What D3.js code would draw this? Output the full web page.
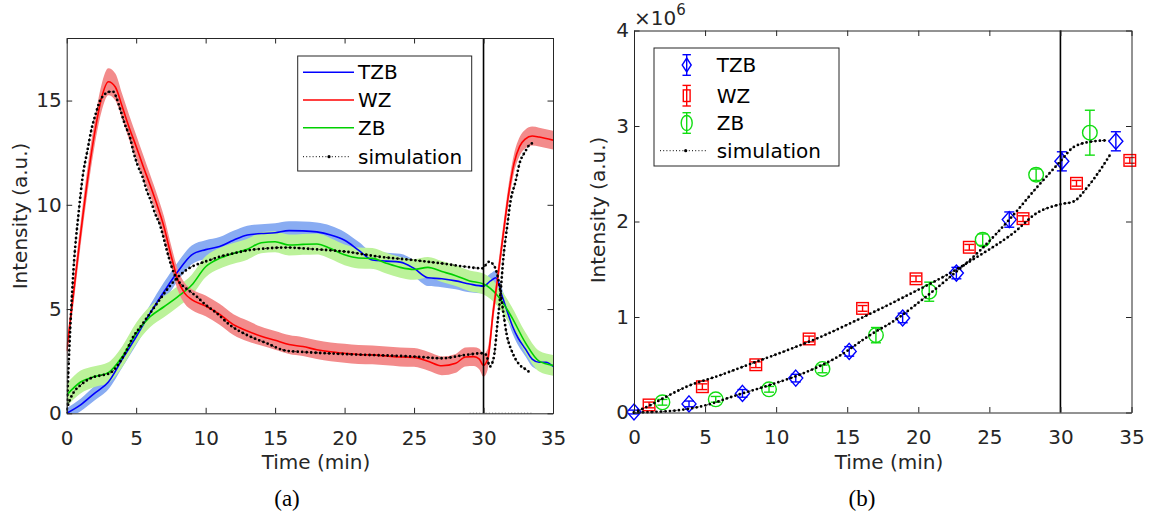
<!DOCTYPE html>
<html>
<head>
<meta charset="utf-8">
<script src="https://cdn.jsdelivr.net/npm/d3@7"></script>
<style>
  body { margin: 0; background: #fff; }
  svg text { font-family: "DejaVu Sans", sans-serif; }
  svg text.caption { font-family: "Liberation Serif", serif; }
</style>
</head>
<body>
<svg id="fig" width="1160" height="524"></svg>
<script>
// ---------- (a) intensity traces, a.u. ----------
const ticksA_x = [0, 5, 10, 15, 20, 25, 30, 35];
const ticksA_y = [0, 5, 10, 15];

const wzTime = [0,0.5,1,1.5,2,2.5,3,3.5,4,4.5, 5,5.5,6,6.5,7,7.5,8,8.5,9,10, 11,12,13,14,15,16,17,18,19,20, 21,22,23,24,25,26,27,28, 28.7,29.3,29.7,30,30.3,30.7,31,31.4,31.8,32.2, 32.6,33,33.5,34,35];
const wzValue = [3.0,5.8,8.6,11.2,13.4,15.1,15.9,15.65,14.7,13.7, 12.8,11.85,10.95,10.0,8.95,7.6,6.4,5.75,5.45,5.15, 4.75,4.25,3.95,3.7,3.5,3.3,3.2,3.05,2.95,2.88, 2.82,2.8,2.75,2.7,2.68,2.5,2.28,2.4, 2.7,2.72,2.6,2.3,2.6,4.9,6.4,8.5,10.5,12.0, 12.8,13.15,13.3,13.25,13.1];
const wzSpread = [0.4,0.5,0.55,0.6,0.6,0.65,0.65,0.65,0.6,0.6, 0.55,0.55,0.5,0.5,0.5,0.5,0.5,0.5,0.5,0.5, 0.5,0.5,0.5,0.45,0.45,0.45,0.45,0.45,0.45,0.45, 0.45,0.45,0.45,0.45,0.45,0.45,0.45,0.45, 0.45,0.45,0.5,0.55,0.5,0.45,0.45,0.45,0.45,0.45, 0.45,0.45,0.45,0.45,0.45];

const tzbTime = [0,1,2,3,4,5,6,7,8,9, 10,11,12,13,14,15,16,17,18,19, 20,21,22,23,24,25,26,27,28,29, 30,30.5,30.9,31.3,31.7,32.1,32.5,33,33.5,34,34.5,35];
const tzbValue = [0,0.4,0.96,1.5,2.6,3.67,4.8,5.83,6.8,7.6, 7.85,8.0,8.3,8.55,8.62,8.66,8.76,8.75,8.7,8.55, 8.3,7.83,7.35,7.3,7.25,6.95,6.5,6.45,6.35,6.2, 6.1,6.35,6.5,5.7,4.9,4.15,3.6,3.1,2.6,2.45,2.45,2.25];
const tzbSpread = [0.25,0.3,0.35,0.35,0.4,0.4,0.4,0.45,0.45,0.45, 0.45,0.45,0.45,0.45,0.45,0.45,0.45,0.45,0.45,0.45, 0.4,0.4,0.4,0.4,0.4,0.4,0.4,0.4,0.4,0.4, 0.35,0.35,0.35,0.35,0.35,0.35,0.35,0.35,0.35,0.35,0.35,0.35];

const zbTime = [0,1,2,3,4,5,6,7,8,9, 10,11,12,13,14,15,16,17,18,19, 20,21,22,23,24,25,26,27,28,29, 30,31,32,33,34,35];
const zbValue = [0.88,1.5,1.76,1.95,2.72,3.84,4.63,5.11,5.6,6.15, 7.03,7.43,7.67,7.87,8.18,8.23,8.07,8.1,8.12,7.9, 7.6,7.45,7.43,7.2,7.0,6.9,7.0,6.8,6.6,6.35, 6.2,5.65,4.65,3.4,2.5,2.3];
const zbSpread = [0.55,0.55,0.5,0.5,0.5,0.5,0.5,0.5,0.5,0.5, 0.5,0.5,0.5,0.5,0.5,0.5,0.5,0.5,0.5,0.5, 0.5,0.5,0.5,0.5,0.5,0.5,0.5,0.5,0.5,0.5, 0.5,0.5,0.5,0.5,0.5,0.5];

const simWzTime = [0,0.25,0.5,0.85,1.15,1.5,1.8,2.1,2.4,2.7, 3.0,3.35,3.6,3.9,4.2,4.55,4.8,5.1,5.45,5.75, 6.05,6.35,6.7,6.95,7.2,7.55,7.9,8.3,8.75,9.35, 10,10.8,11.75,12.95,14.4,15.8,17,20,25,27, 28.7,29.9,30.2,30.45,30.75,31.0,31.2,31.45,31.7,31.95, 32.3,32.6,33.0,33.3,33.5];
const simWzValue = [0,4.0,7.0,9.56,11.35,12.63,13.67,14.39,15.0,15.27, 15.42,15.42,15.1,14.47,13.83,13.24,12.55,11.9,11.35,10.7, 10.2,9.6,9.05,8.47,7.83,7.03,6.47,6.15,5.91,5.6, 5.2,4.8,4.23,3.76,3.36,3.0,2.94,2.84,2.72,2.64, 2.8,2.88,2.8,2.24,2.72,4.3,5.6,7.6,8.95,10.2, 11.1,12.0,12.55,12.87,12.95];

const simZbTime = [0,0.2,0.5,1,1.5,2,2.5,3.1,3.6,4.2, 4.8,5.4,6,6.6,7.2,7.8,8.3,9,9.6,10.3, 11,12,13.2,14.4,15.8,17.8,20.1,22.5,24.9,27.3, 28.7,29.9,30.4,30.8,31.2,31.4,31.65,32.1,32.6,33.1, 33.4];
const simZbValue = [0.2,0.6,1.0,1.35,1.6,1.75,1.82,1.92,2.24,2.88, 3.68,4.23,4.8,5.36,5.91,6.39,6.71,7.03,7.19,7.35, 7.51,7.67,7.83,7.91,7.95,7.87,7.75,7.51,7.35,7.16, 7.03,6.95,7.27,7.03,5.91,4.95,3.84,2.88,2.32,2.08, 1.92];

const simBaseTime = [29.0, 33.45];
const simBaseValue = [0, 0];

// ---------- (b) integrated intensity, ×10^6 a.u. ----------
const ticksB_x = [0, 5, 10, 15, 20, 25, 30, 35];
const ticksB_y = [0, 1, 2, 3, 4];

const tzbPtTime = [0,3.87,7.63,11.38,15.14,18.9,22.68,26.4,30.1,33.9];
const tzbPtValue = [0.005,0.09,0.2,0.36,0.64,0.99,1.46,2.02,2.63,2.84];
const tzbPtErr = [0.02,0.03,0.04,0.04,0.05,0.05,0.06,0.08,0.1,0.1];

const wzPtTime = [1.06,4.81,8.57,12.32,16.08,19.84,23.59,27.37,31.13,34.88];
const wzPtValue = [0.079,0.27,0.5,0.77,1.09,1.4,1.73,2.03,2.4,2.64];
const wzPtErr = [0.03,0.03,0.03,0.03,0.03,0.03,0.03,0.03,0.03,0.03];

const zbPtTime = [2.0,5.75,9.5,13.26,17.02,20.77,24.53,28.29,32.07];
const zbPtValue = [0.107,0.138,0.243,0.456,0.81,1.265,1.81,2.49,2.93];
const zbPtErr = [0.03,0.03,0.03,0.04,0.08,0.1,0.06,0.06,0.235];

const simUpTime = [0,1.06,2.07,3.7,6.06,8.4,10.75,13.1,15.44,17.8,19.67,22.0,24.37,26.7,28.36,30.0,30.94,31.9,32.8,33.5];
const simUpValue = [0,0.07,0.15,0.27,0.39,0.52,0.65,0.79,0.95,1.12,1.26,1.44,1.65,1.88,2.09,2.18,2.21,2.36,2.54,2.70];

const simLowTime = [0,2.5,4.9,7.2,9.6,11.9,14.3,16.6,18.6,19.67,22.0,24.37,26.7,28.36,30.0,30.94,32.35,33.4];
const simLowValue = [0,0.015,0.07,0.18,0.29,0.41,0.58,0.81,0.99,1.11,1.39,1.70,2.07,2.36,2.63,2.78,2.84,2.85];

const seriesNames = ["TZB", "WZ", "ZB", "simulation"];

// ---------- styling ----------
const AX = "#262626";
const C = { tzb: "#0000ff", wz: "#ff0000", zb: "#00d000" };
const BAND = { tzb: "#89acf2", wz: "#f38b8b", zb: "#bcf29a" };
const MARK = { tzb: "#0000ff", wz: "#ff0000", zb: "#11dd11" };
const FS = 20;

const svg = d3.select("#fig");

const xA = d3.scaleLinear().domain([0, 35]).range([66.7, 553]);
const yA = d3.scaleLinear().domain([0, 18]).range([413.3, 38]);
const xB = d3.scaleLinear().domain([0, 35]).range([634, 1131.5]);
const yB = d3.scaleLinear().domain([0, 4]).range([412.5, 30.5]);

function zip(ts, vs, es) {
  return ts.map((t, i) => ({ t, v: vs[i], e: es ? es[i] : 0 }));
}

function drawAxes(x, y, xt, yt) {
  const [x0, x1] = x.range();
  const [y0, y1] = y.range();
  const g = svg.append("g");
  const fmt = d3.format("d");
  const style = sel => {
    sel.selectAll("path.domain").attr("stroke", AX).attr("stroke-width", 1);
    sel.selectAll(".tick line").attr("stroke", AX).attr("stroke-width", 1);
    sel.selectAll(".tick text").attr("fill", AX).attr("font-size", FS);
  };
  g.append("g").attr("transform", `translate(0,${y0})`)
    .call(d3.axisBottom(x).tickValues(xt).tickFormat(fmt).tickSizeInner(-5.5).tickSizeOuter(0).tickPadding(17.5)).call(style);
  g.append("g").attr("transform", `translate(0,${y1})`)
    .call(d3.axisTop(x).tickValues(xt).tickSizeInner(-5.5).tickSizeOuter(0).tickFormat("")).call(style);
  g.append("g").attr("transform", `translate(${x0},0)`)
    .call(d3.axisLeft(y).tickValues(yt).tickFormat(fmt).tickSizeInner(-5.5).tickSizeOuter(0).tickPadding(5)).call(style);
  g.append("g").attr("transform", `translate(${x1},0)`)
    .call(d3.axisRight(y).tickValues(yt).tickSizeInner(-5.5).tickSizeOuter(0).tickFormat("")).call(style);
  return g;
}

function drawSim(g, x, y, ts, vs, withDots) {
  const line = d3.line().x(d => x(d.t)).y(d => y(d.v)).curve(d3.curveMonotoneX);
  const data = zip(ts, vs);
  g.append("path").attr("d", line(data)).attr("fill", "none")
    .attr("stroke", "#000").attr("stroke-width", 1).attr("stroke-dasharray", "1 2.2");
  if (withDots) {
    g.append("path").attr("d", line(data)).attr("fill", "none")
      .attr("stroke", "#000").attr("stroke-width", 2.8).attr("stroke-linecap", "round")
      .attr("stroke-dasharray", "0 4.5");
  }
}

function clipFor(id, x, y) {
  const [x0, x1] = x.range();
  const [y0, y1] = y.range();
  svg.append("clipPath").attr("id", id).append("rect")
    .attr("x", x0).attr("y", y1).attr("width", x1 - x0).attr("height", y0 - y1);
}

// ================= panel (a) =================
clipFor("clipA", xA, yA);
const gA = svg.append("g").attr("clip-path", "url(#clipA)");

const bandA = d3.area().x(d => xA(d.t)).y0(d => yA(d.v - d.e)).y1(d => yA(d.v + d.e)).curve(d3.curveMonotoneX);
const lineA = d3.line().x(d => xA(d.t)).y(d => yA(d.v)).curve(d3.curveMonotoneX);

const tracesA = [
  { key: "tzb", data: zip(tzbTime, tzbValue, tzbSpread) },
  { key: "zb", data: zip(zbTime, zbValue, zbSpread) },
  { key: "wz", data: zip(wzTime, wzValue, wzSpread) }
];
tracesA.forEach(s => gA.append("path").attr("d", bandA(s.data)).attr("fill", BAND[s.key]));
tracesA.forEach(s => gA.append("path").attr("d", lineA(s.data)).attr("fill", "none")
  .attr("stroke", C[s.key]).attr("stroke-width", 1.6));

drawSim(gA, xA, yA, simWzTime, simWzValue, true);
drawSim(gA, xA, yA, simZbTime, simZbValue, true);
drawSim(gA, xA, yA, simBaseTime, simBaseValue, false);

gA.append("line").attr("x1", xA(30)).attr("x2", xA(30))
  .attr("y1", yA.range()[0]).attr("y2", yA.range()[1])
  .attr("stroke", "#000").attr("stroke-width", 1.6);

drawAxes(xA, yA, ticksA_x, ticksA_y);

// legend (a)
const legA = svg.append("g");
legA.append("rect").attr("x", 297.7).attr("y", 56).attr("width", 174).attr("height", 115)
  .attr("fill", "#fff").attr("stroke", AX).attr("stroke-width", 1);
const legAy = [72.3, 100, 127.7, 156.7];
const legAkeys = ["tzb", "wz", "zb"];
legAkeys.forEach((k, i) => {
  legA.append("line").attr("x1", 303).attr("x2", 354).attr("y1", legAy[i]).attr("y2", legAy[i])
    .attr("stroke", C[k]).attr("stroke-width", 1.6);
});
legA.append("line").attr("x1", 303).attr("x2", 351).attr("y1", legAy[3]).attr("y2", legAy[3])
  .attr("stroke", "#000").attr("stroke-width", 1).attr("stroke-dasharray", "1 2.2");
legA.append("circle").attr("cx", 329).attr("cy", legAy[3]).attr("r", 1.6).attr("fill", "#000");
seriesNames.forEach((n, i) => {
  legA.append("text").attr("x", 358).attr("y", legAy[i] + 7).attr("font-size", FS).attr("fill", "#000").text(n);
});

// axis titles (a)
svg.append("text").attr("x", 316).attr("y", 469).attr("text-anchor", "middle")
  .attr("font-size", FS).attr("fill", AX).text("Time (min)");
svg.append("text").attr("transform", "translate(27,216) rotate(-90)").attr("text-anchor", "middle")
  .attr("font-size", FS).attr("fill", AX).text("Intensity (a.u.)");

// ================= panel (b) =================
const gB = svg.append("g");

// error bars and markers
function drawPoints(g, key, ts, vs, es, shape) {
  const col = MARK[key];
  ts.forEach((t, i) => {
    const cx = xB(t), cy = yB(vs[i]);
    const ya = yB(vs[i] - es[i]), yb = yB(vs[i] + es[i]);
    const eg = g.append("g").attr("stroke", col).attr("stroke-width", 1.4).attr("fill", "none");
    eg.append("line").attr("x1", cx).attr("x2", cx).attr("y1", ya).attr("y2", yb);
    eg.append("line").attr("x1", cx - 5).attr("x2", cx + 5).attr("y1", ya).attr("y2", ya);
    eg.append("line").attr("x1", cx - 5).attr("x2", cx + 5).attr("y1", yb).attr("y2", yb);
    shape(eg, cx, cy);
  });
}
const diamond = (g, cx, cy, hw = 7, hh = 8) => g.append("path")
  .attr("d", `M${cx},${cy - hh}L${cx + hw},${cy}L${cx},${cy + hh}L${cx - hw},${cy}Z`);
const square = (g, cx, cy, hw = 5.8, hh = 5.8) => g.append("rect")
  .attr("x", cx - hw).attr("y", cy - hh).attr("width", 2 * hw).attr("height", 2 * hh);
const circ = (g, cx, cy, rx = 7.3, ry = 7.3) => g.append("ellipse")
  .attr("cx", cx).attr("cy", cy).attr("rx", rx).attr("ry", ry);

drawPoints(gB, "tzb", tzbPtTime, tzbPtValue, tzbPtErr, diamond);
drawPoints(gB, "wz", wzPtTime, wzPtValue, wzPtErr, square);
drawPoints(gB, "zb", zbPtTime, zbPtValue, zbPtErr, circ);

drawSim(gB, xB, yB, simUpTime, simUpValue, true);
drawSim(gB, xB, yB, simLowTime, simLowValue, true);

gB.append("line").attr("x1", xB(30)).attr("x2", xB(30))
  .attr("y1", yB.range()[0]).attr("y2", yB.range()[1])
  .attr("stroke", "#000").attr("stroke-width", 1.6);

drawAxes(xB, yB, ticksB_x, ticksB_y);

// exponent label
const expo = svg.append("text").attr("x", 634).attr("y", 25).attr("font-size", FS).attr("fill", AX);
expo.append("tspan").text("×10");
expo.append("tspan").attr("font-size", 15).attr("dy", -10).text("6");

// legend (b)
const legB = svg.append("g");
legB.append("rect").attr("x", 654).attr("y", 48).attr("width", 185).attr("height", 118)
  .attr("fill", "#fff").attr("stroke", AX).attr("stroke-width", 1);
const legBy = [65, 95.7, 123, 150.7];
const legBx = 686.7;
const legShapes = [
  (g, y) => diamond(g, legBx, y, 4.5, 7),
  (g, y) => square(g, legBx, y, 3.4, 5.8),
  (g, y) => circ(g, legBx, y, 5.5, 7.5)
];
["tzb", "wz", "zb"].forEach((k, i) => {
  const y = legBy[i];
  const eg = legB.append("g").attr("stroke", MARK[k]).attr("stroke-width", 1.4).attr("fill", "none");
  eg.append("line").attr("x1", legBx).attr("x2", legBx).attr("y1", y - 10.3).attr("y2", y + 10.3);
  eg.append("line").attr("x1", legBx - 4.2).attr("x2", legBx + 4.2).attr("y1", y - 10.3).attr("y2", y - 10.3);
  eg.append("line").attr("x1", legBx - 4.2).attr("x2", legBx + 4.2).attr("y1", y + 10.3).attr("y2", y + 10.3);
  legShapes[i](eg, y);
});
legB.append("line").attr("x1", 660).attr("x2", 708).attr("y1", legBy[3]).attr("y2", legBy[3])
  .attr("stroke", "#000").attr("stroke-width", 1).attr("stroke-dasharray", "1 2.2");
legB.append("circle").attr("cx", 685.7).attr("cy", legBy[3]).attr("r", 1.6).attr("fill", "#000");
seriesNames.forEach((n, i) => {
  legB.append("text").attr("x", 716.7).attr("y", legBy[i] + 7).attr("font-size", FS).attr("fill", "#000").text(n);
});

// axis titles (b)
svg.append("text").attr("x", 889).attr("y", 469).attr("text-anchor", "middle")
  .attr("font-size", FS).attr("fill", AX).text("Time (min)");
svg.append("text").attr("transform", "translate(605,210) rotate(-90)").attr("text-anchor", "middle")
  .attr("font-size", FS).attr("fill", AX).text("Intensity (a.u.)");

// sub-figure captions
svg.append("text").attr("class", "caption").attr("x", 287).attr("y", 506).attr("text-anchor", "middle")
  .attr("font-size", 23).attr("fill", "#000").text("(a)");
svg.append("text").attr("class", "caption").attr("x", 862).attr("y", 506).attr("text-anchor", "middle")
  .attr("font-size", 23).attr("fill", "#000").text("(b)");
</script>
</body>
</html>
